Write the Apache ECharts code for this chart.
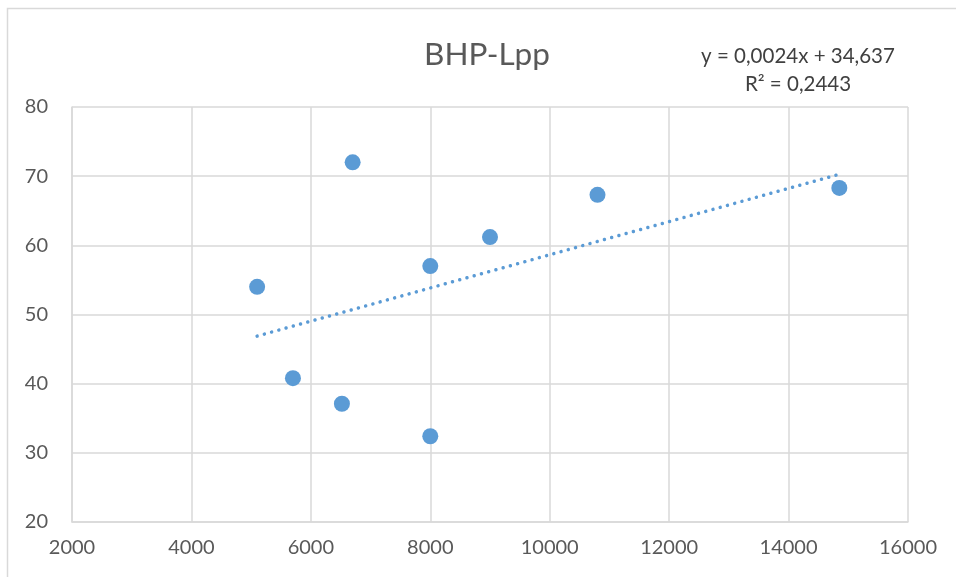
<!DOCTYPE html>
<html><head><meta charset="utf-8">
<script src="https://cdn.jsdelivr.net/npm/echarts@6/dist/echarts.min.js"></script>
<style>html,body{margin:0;padding:0;background:#fff}#c{width:956px;height:577px}</style>
</head><body><div id="c"></div>
<script>
var xValues = [5100, 5700, 6520, 6700, 8000, 8000, 9000, 10800, 14850];
var yValues = [54.0, 40.8, 37.1, 72.0, 57.0, 32.4, 61.2, 67.3, 68.3];
var slope = 0.0024, intercept = 34.637;
var titleText = 'BHP-Lpp';
var eqText = 'y = 0,0024x + 34,637';
var r2Text = 'R² = 0,2443';

var pts = xValues.map(function(x, i){ return [x, yValues[i]]; });
var xmin = Math.min.apply(null, xValues), xmax = Math.max.apply(null, xValues);
var trend = [[xmin, slope*xmin+intercept], [xmax, slope*xmax+intercept]];
var font = 'Lato, "Open Sans", sans-serif';
var chart = echarts.init(document.getElementById('c'));
chart.setOption({
  animation: false,
  graphic: [
    {type:'rect', shape:{x:7.5, y:8.5, width:1000, height:1000}, style:{fill:'none', stroke:'#d9d9d9', lineWidth:1.5}, silent:true},
    {type:'text', style:{text:titleText, font:'31.5px '+font, fill:'#595959', x:487, y:55, align:'center', verticalAlign:'middle'}},
    {type:'text', style:{text:eqText, font:'20.5px '+font, fill:'#404040', x:798, y:56, align:'center', verticalAlign:'middle'}},
    {type:'text', style:{text:r2Text, font:'20.5px '+font, fill:'#404040', x:798, y:84, align:'center', verticalAlign:'middle'}}
  ],
  grid: {left:72, right:48, top:107, bottom:55, containLabel:false},
  xAxis: {type:'value', min:2000, max:16000, interval:2000,
    axisLine:{show:true, onZero:false, lineStyle:{color:'#d9d9d9', width:1.5}},
    axisTick:{show:false},
    splitLine:{show:true, lineStyle:{color:'#d9d9d9', width:1.5}},
    axisLabel:{color:'#595959', fontSize:20, fontFamily:font, margin:16, formatter:function(v){return String(v);}}},
  yAxis: {type:'value', min:20, max:80, interval:10,
    axisLine:{show:true, onZero:false, lineStyle:{color:'#d9d9d9', width:1.5}},
    axisTick:{show:false},
    splitLine:{show:true, lineStyle:{color:'#d9d9d9', width:1.5}},
    axisLabel:{color:'#595959', fontSize:20, fontFamily:font, margin:24}},
  series: [
    {type:'line', data:trend, symbol:'none', z:2,
      lineStyle:{color:'#5b9bd5', width:3.5, type:[0.01, 7.5], cap:'round'}},
    {type:'scatter', data:pts, symbolSize:16, z:3,
      itemStyle:{color:'#5b9bd5', opacity:1}}
  ]
});
</script></body></html>
